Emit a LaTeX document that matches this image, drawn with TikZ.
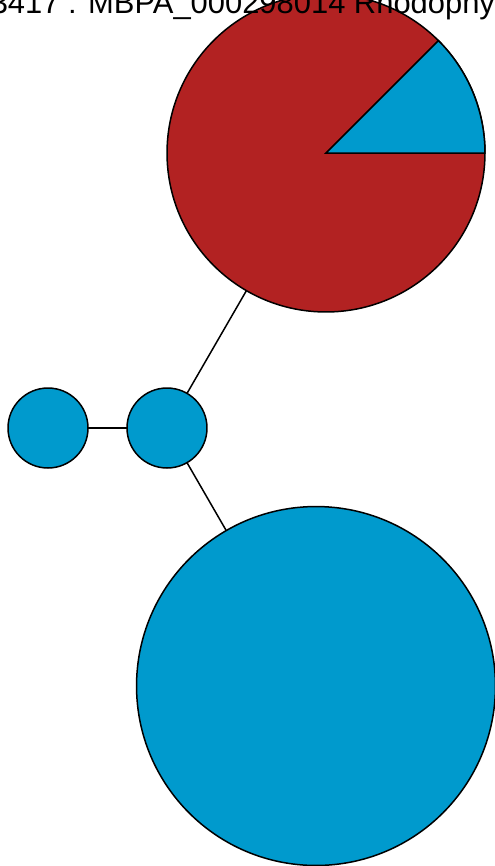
\documentclass[tikz,border=0pt]{standalone}
\usepackage{fontspec}
\setmainfont{Liberation Sans}

\definecolor{nodeblue}{RGB}{0,154,205}
\definecolor{nodered}{RGB}{178,34,34}

\begin{document}
\begin{tikzpicture}[
    x=0.02cm, y=-0.02cm,
    line width=0.03cm,
    bnode/.style={circle, draw=black, fill=nodeblue, inner sep=0pt, outer sep=0pt},
    rnode/.style={circle, draw=black, fill=nodered, inner sep=0pt, outer sep=0pt},
    title/.style={font=\fontsize{17.6}{20}\selectfont, inner sep=0pt, anchor=base west}
]
\useasboundingbox (0,0) rectangle (494,866);

\node [rnode, minimum size=6.36cm] (taxon) at (326,153) {};
\filldraw [fill=nodeblue, draw=black] (taxon.center) -- (taxon.east)
    arc [start angle=0, end angle=45, radius=3.18cm] -- cycle;
\node [bnode, minimum size=1.6cm] (hub) at (167,428) {};
\node [bnode, minimum size=1.6cm] (leaf) at (48,428) {};
\node [bnode, minimum size=7.18cm] (big) at (316,686) {};

\draw (leaf) -- (hub);
\draw (hub) -- (taxon);
\draw (hub) -- (big);

\node [title] (label) at (-10,13) {3417 : MBPA\_000298014 Rhodophy};

\end{tikzpicture}
\end{document}
